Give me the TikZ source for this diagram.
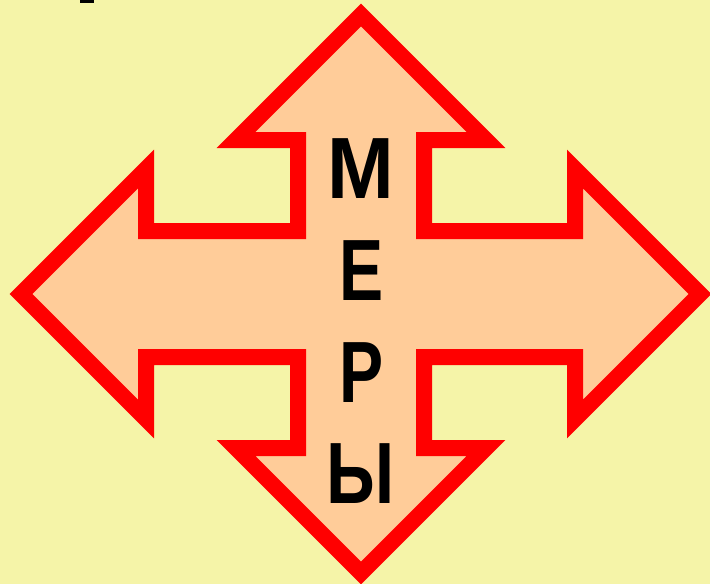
\documentclass[tikz,border=0pt]{standalone}
\usepackage{fontspec}
\setmainfont{Liberation Sans}
\definecolor{bgyellow}{HTML}{F5F4A8}
\definecolor{peach}{HTML}{FFCC99}
\definecolor{arrowred}{HTML}{FF0000}
\begin{document}
\begin{tikzpicture}[x=1pt,y=-1pt,
  crossarrow/.style={draw=arrowred,fill=peach,line width=16pt,line join=miter,miter limit=10},
  letter/.style={anchor=base,inner sep=0pt,font=\fontsize{87}{87}\selectfont\bfseries,text=black}]
\fill[bgyellow] (0,0) rectangle (710,584);
\useasboundingbox (0,0) rectangle (710,584);
\fill[black] (80,0) rectangle (94,3);
\draw[crossarrow] (361,15) -- (486,140) -- (424,140) -- (424,231) -- (575,231) -- (575,169)
  -- (700,294) -- (575,419) -- (575,357) -- (424,357) -- (424,448) -- (486,448)
  -- (361,573) -- (236,448) -- (298,448) -- (298,357) -- (146,357) -- (146,419)
  -- (21,294) -- (146,169) -- (146,231) -- (298,231) -- (298,140) -- (236,140) -- cycle;
\node[letter] (m) at (361,198) {\scalebox{0.92}[1]{М}};
\node[letter] (e) at (362,300) {\scalebox{0.76}[1]{Е}};
\node[letter] (r) at (362,402) {\scalebox{0.76}[1]{Р}};
\node[letter] (y) at (361,503) {\scalebox{0.8}[1]{Ы}};
\end{tikzpicture}
\end{document}
